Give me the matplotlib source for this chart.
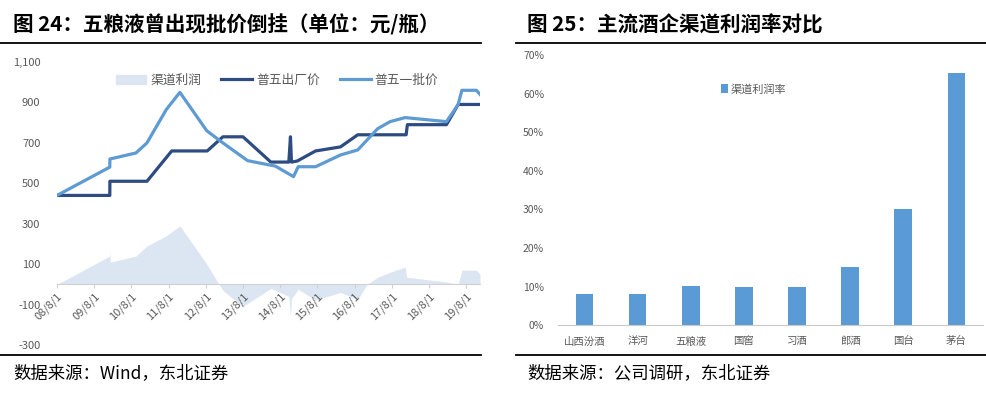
import matplotlib
matplotlib.use("Agg")
import matplotlib.pyplot as plt
from matplotlib.lines import Line2D
from matplotlib.patches import Patch
import pandas as pd

plt.rcParams['font.family'] = ['Noto Sans CJK SC', 'DejaVu Sans']

# ---- left chart data (元/瓶) ----
factory_dates = ["2008-08-01", "2010-01-01", "2010-01-02", "2011-01-01", "2011-09-01",
                 "2012-08-15", "2013-01-15", "2013-08-01", "2014-05-01", "2014-10-25",
                 "2014-11-10", "2014-11-20", "2015-01-15", "2015-07-15", "2016-03-15",
                 "2016-09-01", "2017-12-20", "2018-01-01", "2019-01-20", "2019-05-15",
                 "2019-12-15"]
factory_price = [440, 440, 510, 510, 660, 660, 730, 730, 605, 605,
                 730, 605, 610, 660, 680, 740, 740, 790, 790, 890, 890]

wholesale_dates = ["2008-08-01", "2010-01-01", "2010-01-02", "2010-09-15", "2011-01-01",
                   "2011-07-10", "2011-11-20", "2012-08-10", "2013-01-15", "2013-09-15",
                   "2014-06-15", "2014-12-10", "2015-01-25", "2015-07-15", "2016-03-15",
                   "2016-09-01", "2017-03-15", "2017-07-15", "2017-12-10", "2019-01-20",
                   "2019-05-15", "2019-06-20", "2019-11-10", "2019-12-15"]
wholesale_price = [440, 580, 620, 650, 700, 865, 950, 760, 700, 612,
                   585, 533, 582, 582, 640, 665, 770, 805, 825, 805,
                   890, 960, 960, 940]

profit_dates = ["2008-08-01", "2010-01-01", "2010-01-02", "2010-01-05", "2010-09-15",
                "2011-01-01", "2011-07-10", "2011-11-20", "2012-08-10", "2013-01-15",
                "2013-08-01", "2014-05-01", "2014-10-25", "2014-11-10", "2014-11-20",
                "2015-01-25", "2015-07-15", "2016-03-15", "2016-09-01", "2016-12-01",
                "2017-03-15", "2017-07-15", "2017-12-10", "2017-12-25", "2019-01-20",
                "2019-05-15", "2019-06-20", "2019-11-10", "2019-12-15"]
channel_profit = [0, 140, 180, 110, 140, 190, 240, 290, 100, -30,
                  -110, -20, -60, -160, -70, -25, -78, -40, -75, 0,
                  35, 60, 85, 35, 12, 0, 70, 70, 50]

year_ticks = ["2008-08-01", "2009-08-01", "2010-08-01", "2011-08-01", "2012-08-01",
              "2013-08-01", "2014-08-01", "2015-08-01", "2016-08-01", "2017-08-01",
              "2018-08-01", "2019-08-01"]
year_labels = ["08/8/1", "09/8/1", "10/8/1", "11/8/1", "12/8/1", "13/8/1",
               "14/8/1", "15/8/1", "16/8/1", "17/8/1", "18/8/1", "19/8/1"]

# ---- right chart data ----
brands = ["山西汾酒", "洋河", "五粮液", "国窖", "习酒", "郎酒", "国台", "茅台"]
margin = [0.082, 0.082, 0.101, 0.100, 0.100, 0.152, 0.301, 0.653]

dark = "#2E4B82"
light = "#5F9BD3"
area_c = "#DCE6F2"
tick_c = "#595959"

fig = plt.figure(figsize=(9.87, 3.97), dpi=100)

# ---------- left ----------
ax = fig.add_axes([0.0578, 0.131, 0.4285, 0.7128])
pdates = pd.to_datetime(profit_dates)
ax.fill_between(pdates, channel_profit, 0, color=area_c, lw=0)
ax.plot(pd.to_datetime(factory_dates), factory_price, color=dark, lw=2.3)
ax.plot(pd.to_datetime(wholesale_dates), wholesale_price, color=light, lw=2.3)
ax.set_ylim(-300, 1100)
ax.set_xlim(pd.Timestamp("2008-08-01"), pd.Timestamp("2019-12-15"))
ax.set_yticks(range(-300, 1101, 200))
ax.set_yticklabels([f"{v:,}" for v in range(-300, 1101, 200)])
ax.set_xticks(pd.to_datetime(year_ticks))
ax.set_xticklabels(year_labels)
for s in ["top", "right", "left"]:
    ax.spines[s].set_visible(False)
ax.spines["bottom"].set_position(("data", 0))
ax.spines["bottom"].set_color("#D0D0D0")
ax.tick_params(axis="y", length=0, labelsize=8, colors=tick_c, pad=12)
ax.tick_params(axis="x", length=3, color="#D0D0D0", labelsize=8, labelcolor=tick_c,
               pad=2, labelrotation=45)
for lab in ax.get_xticklabels():
    lab.set_ha("right")
    lab.set_rotation_mode("anchor")

handles = [Patch(color=area_c), Line2D([], [], color=dark, lw=2.3),
           Line2D([], [], color=light, lw=2.3)]
ax.legend(handles, ["渠道利润", "普五出厂价", "普五一批价"], loc="upper center",
          bbox_to_anchor=(0.52, 1.0), ncol=3, frameon=False, fontsize=9.2,
          handlelength=2.4, handletextpad=0.3, columnspacing=1.6, labelcolor=tick_c)

# ---------- right ----------
ax2 = fig.add_axes([0.5653, 0.1806, 0.4306, 0.6809])
ax2.bar(range(len(brands)), margin, width=0.33, color="#5B9BD5", label="渠道利润率")
ax2.set_xlim(-0.5, len(brands) - 0.5)
ax2.set_ylim(0, 0.7)
ax2.set_yticks([i / 10 for i in range(8)])
ax2.set_yticklabels([f"{i * 10}%" for i in range(8)])
ax2.set_xticks(range(len(brands)))
ax2.set_xticklabels(brands)
for s in ["top", "right", "left"]:
    ax2.spines[s].set_visible(False)
ax2.spines["bottom"].set_color("#C8C8C8")
ax2.tick_params(axis="y", length=0, labelsize=7.5, colors=tick_c, pad=10)
ax2.tick_params(axis="x", length=0, labelsize=7.5, colors=tick_c, pad=8)
ax2.legend(loc="upper left", bbox_to_anchor=(0.36, 0.93), frameon=False, fontsize=8,
           handlelength=0.6, handleheight=0.8, handletextpad=0.3, labelcolor=tick_c)

# ---------- titles, rules, sources ----------
fig.text(0.0132, 0.937, "图 24：五粮液曾出现批价倒挂（单位：元/瓶）", fontsize=14.8,
         fontweight="bold", va="center")
fig.text(0.534, 0.937, "图 25：主流酒企渠道利润率对比", fontsize=14.8,
         fontweight="bold", va="center")
fig.text(0.0132, 0.06, "数据来源：Wind，东北证券", fontsize=12.5, va="center")
fig.text(0.534, 0.06, "数据来源：公司调研，东北证券", fontsize=12.5, va="center")
for x0, x1 in [(0.0, 0.487), (0.523, 1.0)]:
    fig.add_artist(Line2D([x0, x1], [0.8917, 0.8917], color="black", lw=1.3))
    fig.add_artist(Line2D([x0, x1], [0.1058, 0.1058], color="black", lw=1.3))

fig.savefig("out.png", dpi=100)
